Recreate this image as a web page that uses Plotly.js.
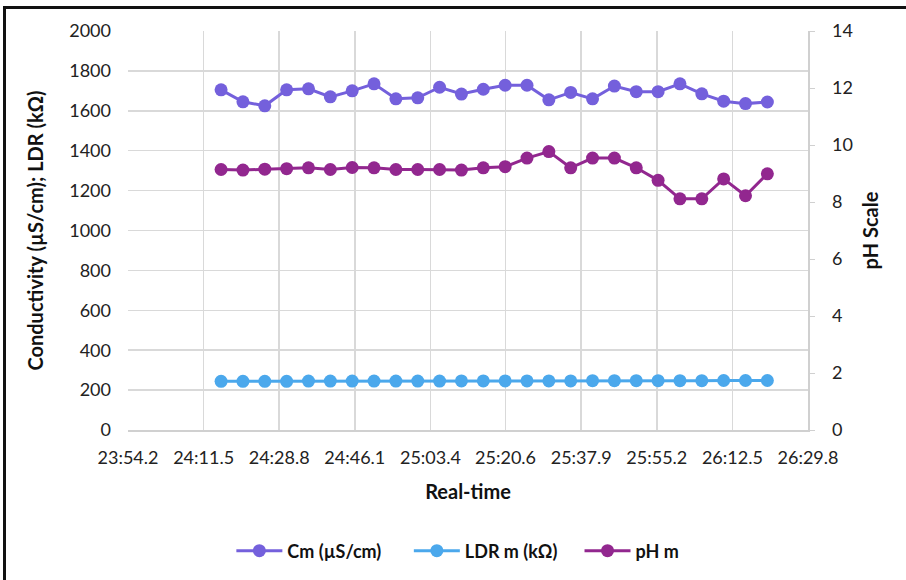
<!DOCTYPE html>
<html>
<head>
<meta charset="utf-8">
<script src="https://cdn.plot.ly/plotly-3.0.1.min.js"></script>
<style>
html,body{margin:0;padding:0;background:#fff;}
#wrap{position:relative;width:906px;height:580px;overflow:hidden;}
#chart{position:absolute;left:0;top:0;width:906px;height:580px;}
#frame{position:absolute;left:3px;top:6px;width:1000px;height:1000px;border-left:3px solid #111;border-top:3px solid #111;pointer-events:none;}
</style>
</head>
<body>
<div id="wrap"><div id="chart"></div><div id="frame"></div></div>
<script>
// Time stamps (mm:ss.s)
const times = ["24:15.5","24:20.5","24:25.5","24:30.5","24:35.5","24:40.5","24:45.5","24:50.5","24:55.5","25:00.5",
               "25:05.5","25:10.5","25:15.5","25:20.5","25:25.5","25:30.5","25:35.5","25:40.5","25:45.5","25:50.5",
               "25:55.5","26:00.5","26:05.5","26:10.5","26:15.5","26:20.5"];
// Conductivity Cm (µS/cm)
const cm = [1705,1645,1625,1705,1710,1670,1700,1735,1660,1665,
            1718,1684,1708,1728,1728,1655,1692,1660,1724,1696,
            1696,1735,1685,1648,1636,1644];
// LDR m (kΩ)
const ldr = [244,244,244,244,245,245,245,245,245,245,
             245,246,246,246,246,246,246,247,247,247,
             247,247,247,248,248,248];
// pH m
const ph = [9.14,9.12,9.15,9.17,9.20,9.14,9.21,9.20,9.14,9.14,
            9.14,9.12,9.20,9.24,9.54,9.77,9.20,9.54,9.54,9.20,
            8.76,8.11,8.11,8.81,8.22,8.99];
// X-axis tick labels
const xTickLabels = ["23:54.2","24:11.5","24:28.8","24:46.1","25:03.4","25:20.6","25:37.9","25:55.2","26:12.5","26:29.8"];

function toSec(s){const p=s.split(":");return parseFloat(p[0])*60+parseFloat(p[1]);}
const xs = times.map(toSec);
const xTickVals = xTickLabels.map(toSec);

const FONT = "Lato, 'Open Sans', sans-serif";
const mk = (name,y,color,axis,leg)=>({
  type:'scatter',mode:'lines+markers',name:name,x:xs,y:y,yaxis:axis,legend:leg,
  line:{color:color,width:3},marker:{color:color,size:13},cliponaxis:false
});

const data = [
  mk('Cm (µS/cm)',cm,'#7460DC','y','legend'),
  mk('LDR m (kΩ)',ldr,'#4BA8EC','y','legend2'),
  mk('pH m',ph,'#92278F','y2','legend3')
];

const legBase = (x)=>({orientation:'h',x:x,xanchor:'left',y:-0.30,yanchor:'middle',itemwidth:46,
  bgcolor:'rgba(0,0,0,0)',font:{family:FONT,size:18,color:'#111',weight:'bold'}});

const layout = {
  width:906,height:580,
  margin:{l:128,r:98,t:31,b:149,pad:0},
  paper_bgcolor:'#fff',plot_bgcolor:'#fff',
  font:{family:FONT,size:18,color:'#222'},
  showlegend:true,
  legend:legBase(0.152),
  legend2:legBase(0.413),
  legend3:legBase(0.664),
  xaxis:{range:[xTickVals[0],xTickVals[xTickVals.length-1]],tickmode:'array',tickvals:xTickVals,ticktext:xTickLabels,
         showgrid:true,gridcolor:'#d9d9d9',gridwidth:1.5,zeroline:false,
         showline:true,linecolor:'#d0d0d0',linewidth:1.5,ticks:'',ticklabelstandoff:11,
         tickfont:{family:FONT,size:18,color:'#222'},
         title:{text:'<b>Real-time</b>',font:{family:FONT,size:20,color:'#111'},standoff:18}},
  yaxis:{range:[0,2000],dtick:200,showgrid:true,gridcolor:'#d9d9d9',gridwidth:1.5,zeroline:false,
         showline:false,ticks:'',ticklabelstandoff:16,tickfont:{family:FONT,size:18,color:'#222'},
         title:{text:'<b>Conductivity (µS/cm); LDR (kΩ)</b>',font:{family:FONT,size:20,color:'#111'},standoff:20}},
  yaxis2:{range:[0,14],dtick:2,overlaying:'y',side:'right',showgrid:false,zeroline:false,
          showline:true,linecolor:'#d0d0d0',linewidth:1.5,ticks:'outside',ticklen:5,tickcolor:'#d0d0d0',
          ticklabelstandoff:14,
          tickfont:{family:FONT,size:18,color:'#222'},
          title:{text:'<b>pH Scale</b>',font:{family:FONT,size:20,color:'#111'},standoff:12}}
};

Plotly.newPlot('chart',data,layout,{displayModeBar:false,staticPlot:true});
</script>
</body>
</html>
